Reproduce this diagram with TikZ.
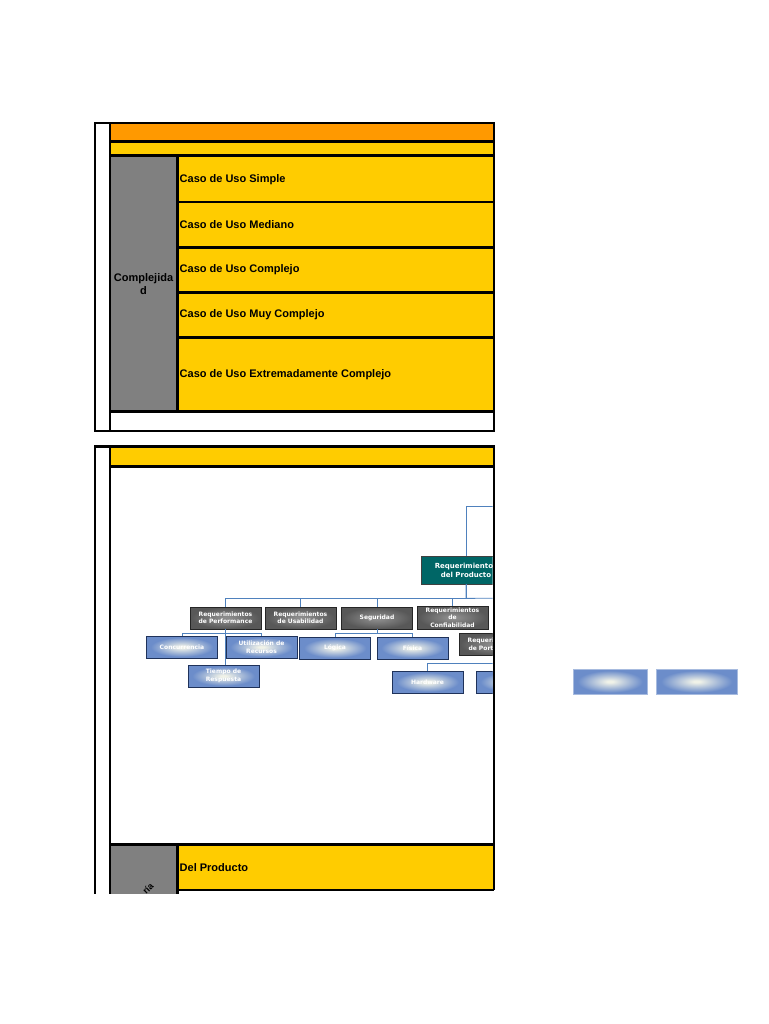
\documentclass[tikz,border=0pt]{standalone}
\usepackage{fontspec}
\setmainfont{Liberation Sans}
\newfontfamily\orgfont{DejaVu Sans}
\usetikzlibrary{calc}
\definecolor{ucorange}{RGB}{255,153,0}
\definecolor{ucyellow}{RGB}{255,204,0}
\definecolor{ucgray}{RGB}{128,128,128}
\definecolor{orgteal}{RGB}{0,102,102}
\definecolor{orgline}{RGB}{79,129,189}
\definecolor{orgnavy}{RGB}{31,50,90}
\definecolor{glowin}{RGB}{240,242,232}
\definecolor{glowout}{RGB}{108,141,202}
\definecolor{darkin}{RGB}{140,140,140}
\definecolor{darkout}{RGB}{88,88,88}
\pgfdeclareradialshading{glow}{\pgfpointorigin}{color(0bp)=(glowin); color(2bp)=(glowin); color(22bp)=(glowout); color(50bp)=(glowout)}
\pgfdeclareradialshading{darkglow}{\pgfpointorigin}{color(0bp)=(darkin); color(3bp)=(darkin); color(24bp)=(darkout); color(50bp)=(darkout)}

\begin{document}
\begin{tikzpicture}[
    x=1pt, y=-1pt,
    frame/.style={
        draw=black,
        line width=2.8pt
    },
    rule/.style={
        draw=black,
        line width=2.3pt
    },
    rowtext/.style={
        anchor=west,
        inner sep=0pt,
        font=\bfseries\fontsize{11}{13}\selectfont
    },
    prodbox/.style={
        rectangle,
        draw=black!75,
        fill=orgteal,
        line width=0.8pt,
        minimum width=90pt,
        minimum height=28pt,
        inner sep=0pt,
        text=white,
        align=center,
        font=\orgfont\bfseries\fontsize{7}{9}\selectfont
    },
    areabox/.style={
        rectangle,
        draw=black!85,
        shading=darkglow,
        line width=0.9pt,
        minimum width=71pt,
        minimum height=22pt,
        inner sep=0.5pt,
        text=white,
        align=center,
        font=\orgfont\bfseries\fontsize{6}{7.5}\selectfont
    },
    leafbox/.style={
        rectangle,
        draw=orgnavy,
        shading=glow,
        line width=0.9pt,
        minimum width=71pt,
        minimum height=22pt,
        inner sep=0.5pt,
        text=white,
        align=center,
        font=\orgfont\bfseries\fontsize{6}{7.5}\selectfont
    },
    blankbox/.style={
        rectangle,
        draw=glowout!60!white,
        shading=glow,
        line width=0.6pt,
        minimum height=25pt
    },
    conn/.style={
        draw=orgline,
        line width=0.8pt
    }
]
\useasboundingbox (0,0) rectangle (768,1024);

% Complexity table
\fill[ucorange] (110,123) rectangle (494,141.5);
\fill[ucyellow] (110,141.5) rectangle (494,155.5);
\fill[ucgray] (110,155.5) rectangle (177.5,411.5);
\fill[ucyellow] (177.5,155.5) rectangle (494,411.5);
\draw[rule] (110,141.5) -- (494,141.5);
\draw[rule] (110,155.5) -- (494,155.5);
\draw[rule] (177.5,155.5) -- (177.5,411.5);
\draw[rule] (177.5,202) -- (494,202);
\draw[rule] (177.5,247.5) -- (494,247.5);
\draw[rule] (177.5,292.5) -- (494,292.5);
\draw[rule] (177.5,337.5) -- (494,337.5);
\draw[rule] (110,411.5) -- (494,411.5);
\draw[frame] (95,123) rectangle (494,431);
\draw[frame] (110,123) -- (110,431);

\node[align=center, inner sep=0pt, font=\bfseries\fontsize{11}{13}\selectfont] (compl) at (143.5,284.5) {Complejida\\d};
\node[rowtext] (simple) at (179.5,180) {Caso de Uso Simple};
\node[rowtext] (mediano) at (179.5,225) {Caso de Uso Mediano};
\node[rowtext] (complejo) at (179.5,269.5) {Caso de Uso Complejo};
\node[rowtext] (muycomplejo) at (179.5,314.5) {Caso de Uso Muy Complejo};
\node[rowtext] (extremo) at (179.5,374.5) {Caso de Uso Extremadamente Complejo};

% Requirements sheet
\begin{scope}
\clip (0,0) rectangle (768,893);
\fill[ucyellow] (110,446.5) rectangle (494,466.5);
\fill[ucgray] (110,844.5) rectangle (177.5,900);
\fill[ucyellow] (177.5,844.5) rectangle (494,890);
\draw[rule] (110,466.5) -- (494,466.5);
\draw[rule] (110,844.5) -- (494,844.5);
\draw[rule] (177.5,844.5) -- (177.5,900);
\draw[rule] (177.5,890) -- (494,890);
\draw[frame] (95,900) -- (95,446.5) -- (494,446.5) -- (494,890);
\draw[frame] (110,446.5) -- (110,900);
\node[rowtext] (delproducto) at (179.5,867.5) {Del Producto};
\node[rotate=45, inner sep=0pt, font=\bfseries\fontsize{9}{11}\selectfont] (cat) at (148,888.5) {ría};
\end{scope}

% Requirements tree
\begin{scope}
\clip (112,468.5) rectangle (492.6,843);
\coordinate (rootin) at (530,506);
\coordinate (busend) at (530,598);

\node[prodbox] (prod) at (466,570) {Requerimientos\\del Producto};

\node[areabox] (perf) at (225.5,618) {Requerimientos\\de Performance};
\node[areabox] (usab) at (300.5,618) {Requerimientos\\de Usabilidad};
\node[areabox] (seg) at (377,618) {Seguridad};
\node[areabox, minimum height=23pt] (conf) at (452.5,617.5) {Requerimientos\\de\\Confiabilidad};
\node[areabox] (port) at (494.5,644.5) {Requerimientos\\de Portabilidad};

\node[leafbox] (conc) at (182,647) {Concurrencia};
\node[leafbox] (util) at (261.5,647) {Utilización de\\Recursos};
\node[leafbox] (tiempo) at (223.5,676) {Tiempo de\\Respuesta};
\node[leafbox] (logica) at (335,648) {Lógica};
\node[leafbox] (fisica) at (412.5,648) {Física};
\node[leafbox] (hw) at (427.5,682) {Hardware};
\node[leafbox] (sw) at (511.5,682) {};

% Connectors
\draw[conn] (prod.north) |- (rootin);
\draw[conn] (prod.south) -- ++(0,14) -| (perf.north);
\draw[conn] (prod.south) -- ++(0,14) -| (usab.north);
\draw[conn] (prod.south) -- ++(0,14) -| (seg.north);
\draw[conn] (prod.south) -- ++(0,14) -| (conf.north);
\draw[conn] (prod.south) -- ++(0,14) -- (busend);

\draw[conn] (perf.south) -- ++(0,4) -| (conc.north);
\draw[conn] (perf.south) -- ++(0,4) -| (util.north);
\draw[conn] (perf.south) -- (perf.south |- tiempo.north);

\draw[conn] (seg.south) -- ++(0,4) -| (logica.north);
\draw[conn] (seg.south) -- ++(0,4) -| (fisica.north);

\draw[conn] (port.south) -- ++(0,7) -| (hw.north);
\draw[conn] (port.south) -- ++(0,7) -| (sw.north);
\end{scope}

% Loose boxes
\node[blankbox, minimum width=74pt] (blankA) at (610,681.5) {};
\node[blankbox, minimum width=81pt] (blankB) at (696.5,681.5) {};

\end{tikzpicture}
\end{document}
